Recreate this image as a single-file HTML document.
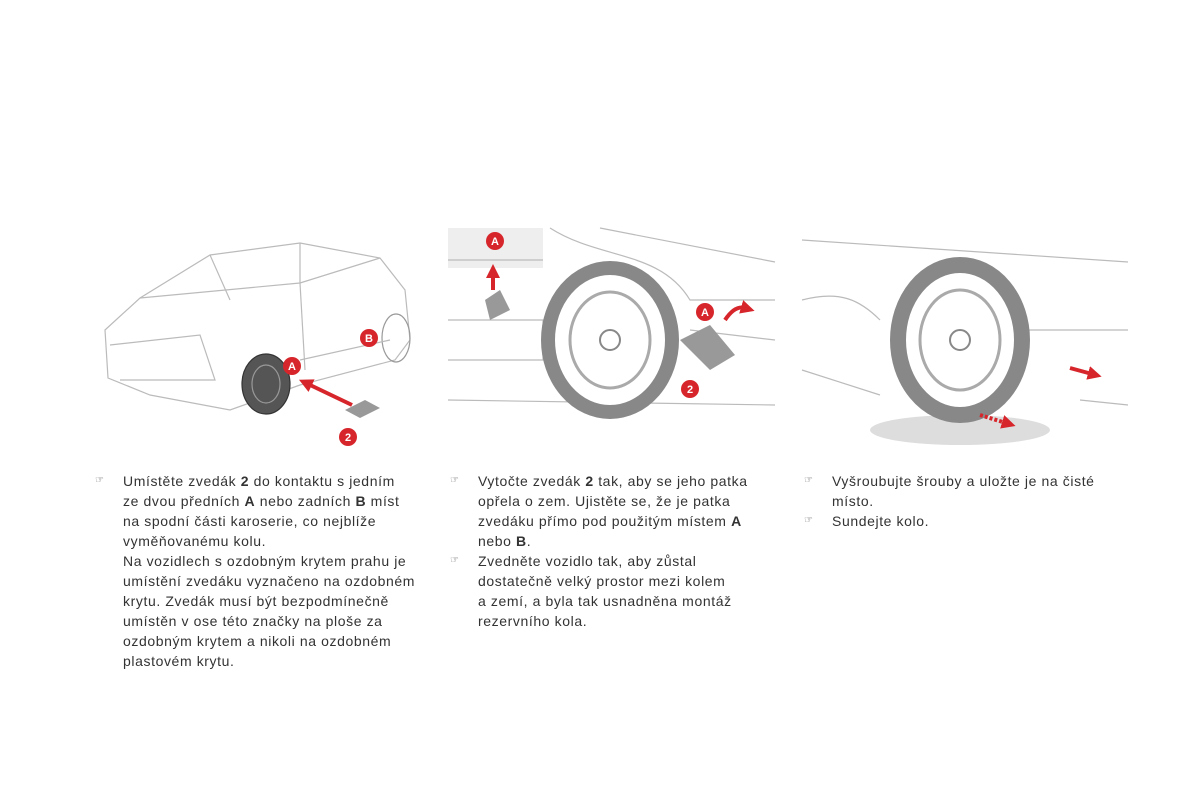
<!DOCTYPE html>
<html><head><meta charset="utf-8"><style>
body{margin:0;width:1200px;height:800px;background:#fff;position:relative;overflow:hidden;font-family:"Liberation Sans",Arial,sans-serif;color:#333}
.t{position:absolute;font-size:14px;line-height:20px;white-space:nowrap;letter-spacing:0.6px;font-family:"Liberation Sans",Arial,sans-serif}
.t p{margin:0;position:relative}
.t p:before{content:"☞";position:absolute;left:-28px;font-size:10px;color:#555}
.t p.n:before{content:none}
svg{position:absolute;left:0;top:0}
</style></head><body>
<svg width="1200" height="800" viewBox="0 0 1200 800">
<defs><marker id="ar" markerUnits="userSpaceOnUse" markerWidth="14" markerHeight="14" refX="4" refY="7" orient="auto"><path d="M0,0L14,7L0,14z" fill="#d7262b"/></marker></defs>
<g fill="none" stroke="#bbb" stroke-width="1.2">
<path d="M105,330 L140,298 L210,255 L300,243 L380,258 L405,290 L410,340 L395,360 L300,385 L230,410 L150,395 L108,378 Z"/>
<path d="M140,298 L300,283 L380,258"/><path d="M300,283 L305,370"/>
<path d="M210,255 L230,300 M300,243 L300,283"/>
<path d="M110,345 L200,335 L215,380 L120,380"/>
<ellipse cx="266" cy="384" rx="24" ry="30" fill="#555" stroke="#333"/>
<ellipse cx="266" cy="384" rx="14" ry="19" stroke="#999"/>
<ellipse cx="396" cy="338" rx="14" ry="24" stroke="#999"/>
<path d="M300,360 L390,340"/>
</g>
<line x1="352" y1="405" x2="308" y2="384" stroke="#d7262b" stroke-width="4" marker-end="url(#ar)"/>
<path d="M345,410 l20,-10 l15,8 l-20,10z" fill="#999"/>
<g fill="none" stroke="#bbb" stroke-width="1.2">
<rect x="448" y="228" width="95" height="40" fill="#eee" stroke="none"/>
<path d="M448,260 L543,260 M448,320 L543,320 L543,360 L448,360"/>
<path d="M550,228 C600,260 660,250 690,300 L775,300 M690,330 L775,340 M448,400 L775,405"/>
<path d="M600,228 L775,262"/>
</g>
<ellipse cx="610" cy="340" rx="62" ry="72" fill="#fff" stroke="#888" stroke-width="14"/>
<ellipse cx="610" cy="340" rx="40" ry="48" fill="none" stroke="#aaa" stroke-width="3"/>
<circle cx="610" cy="340" r="10" fill="none" stroke="#888" stroke-width="2"/>
<path d="M680,340 l30,-15 l25,30 l-25,15z M485,300 l15,-10 l10,20 l-20,10z" fill="#999"/>
<path d="M493,290 v-16" stroke="#d7262b" stroke-width="4" marker-end="url(#ar)"/>
<path d="M725,320 q10,-15 20,-12" stroke="#d7262b" stroke-width="4" fill="none" marker-end="url(#ar)"/>
<g fill="none" stroke="#bbb" stroke-width="1.2">
<path d="M802,240 L1128,262 M802,370 L880,395 M802,300 C840,290 860,300 880,320 M1000,330 L1128,330 M1080,400 L1128,405"/>
</g>
<ellipse cx="960" cy="430" rx="90" ry="15" fill="#ddd"/>
<ellipse cx="960" cy="340" rx="62" ry="75" fill="#fff" stroke="#888" stroke-width="16"/>
<ellipse cx="960" cy="340" rx="40" ry="50" fill="none" stroke="#aaa" stroke-width="3"/>
<circle cx="960" cy="340" r="10" fill="none" stroke="#888" stroke-width="2"/>
<path d="M1070,368 l22,6" stroke="#d7262b" stroke-width="4" marker-end="url(#ar)"/>
<path d="M980,415 l26,8" stroke="#d7262b" stroke-width="4" stroke-dasharray="3,2" marker-end="url(#ar)"/>
<g font-family="Liberation Sans" font-size="11" font-weight="bold" fill="#fff" text-anchor="middle">
<circle cx="292" cy="366" r="9" fill="#d7262b"/><text x="292" y="370">A</text>
<circle cx="369" cy="338" r="9" fill="#d7262b"/><text x="369" y="342">B</text>
<circle cx="348" cy="437" r="9" fill="#d7262b"/><text x="348" y="441">2</text>
<circle cx="495" cy="241" r="9" fill="#d7262b"/><text x="495" y="245">A</text>
<circle cx="705" cy="312" r="9" fill="#d7262b"/><text x="705" y="316">A</text>
<circle cx="690" cy="389" r="9" fill="#d7262b"/><text x="690" y="393">2</text>
</g>
</svg>
<div class="t" style="left:123px;top:471px">
<p>Umístěte zvedák <b>2</b> do kontaktu s jedním<br>ze dvou předních <b>A</b> nebo zadních <b>B</b> míst<br>na spodní části karoserie, co nejblíže<br>vyměňovanému kolu.</p>
<p class="n">Na vozidlech s ozdobným krytem prahu je<br>umístění zvedáku vyznačeno na ozdobném<br>krytu. Zvedák musí být bezpodmínečně<br>umístěn v ose této značky na ploše za<br>ozdobným krytem a nikoli na ozdobném<br>plastovém krytu.</p></div>
<div class="t" style="left:478px;top:471px">
<p>Vytočte zvedák <b>2</b> tak, aby se jeho patka<br>opřela o zem. Ujistěte se, že je patka<br>zvedáku přímo pod použitým místem <b>A</b><br>nebo <b>B</b>.</p>
<p>Zvedněte vozidlo tak, aby zůstal<br>dostatečně velký prostor mezi kolem<br>a zemí, a byla tak usnadněna montáž<br>rezervního kola.</p></div>
<div class="t" style="left:832px;top:471px">
<p>Vyšroubujte šrouby a uložte je na čisté<br>místo.</p>
<p>Sundejte kolo.</p></div>
</body></html>
